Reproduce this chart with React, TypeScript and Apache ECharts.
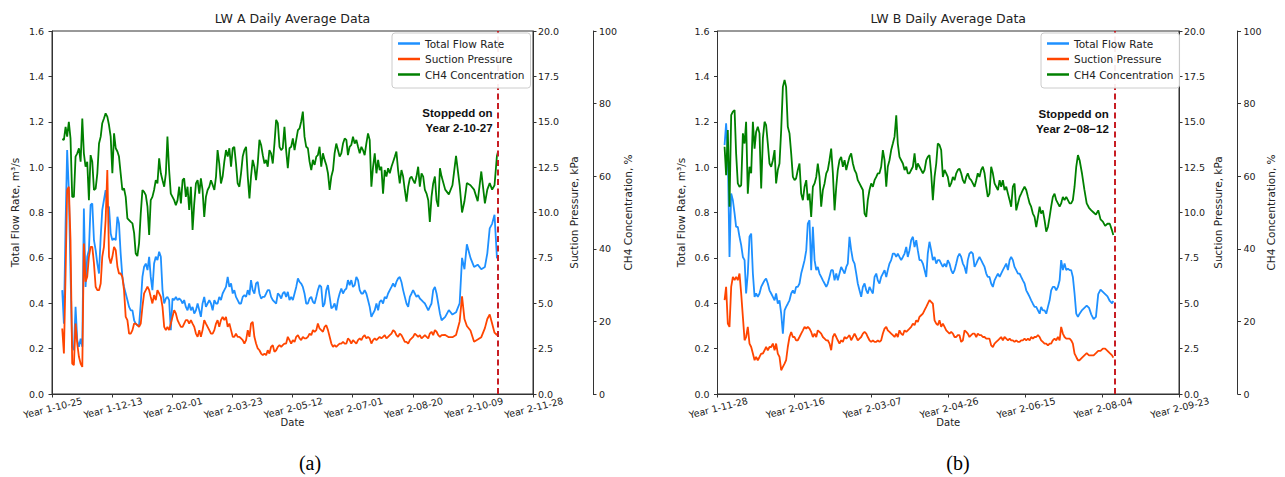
import { useEffect, useRef } from "react";
import * as echarts from "echarts";

// ---------------- Panel (a): LW A ----------------
const xTickLabelsA = ["Year 1-10-25", "Year 1-12-13", "Year 2-02-01", "Year 2-03-23", "Year 2-05-12", "Year 2-07-01", "Year 2-08-20", "Year 2-10-09", "Year 2-11-28"];

const daysA = [
  8.5, 9.9, 11.3, 12.6, 14.0, 15.4, 16.8, 18.2, 19.6, 21.0,
  22.4, 23.8, 25.2, 26.5, 27.9, 29.3, 30.7, 32.1, 33.5, 34.9,
  36.3, 37.7, 39.1, 40.5, 41.8, 43.2, 44.6, 46.0, 47.4, 48.8,
  50.2, 51.6, 53.0, 54.4, 55.7, 57.1, 58.5, 59.9, 61.3, 62.7,
  64.1, 65.5, 66.9, 68.3, 69.6, 71.0, 72.4, 73.8, 75.2, 76.6,
  78.0,
  79.4, 80.8, 82.1, 83.5, 84.9, 86.3, 87.7, 89.1, 90.5, 91.9,
  93.3, 94.7, 96.0, 97.4, 98.8, 100.2, 101.6, 103.0, 104.4, 105.8,
  107.2, 108.6, 109.9, 111.3, 112.7, 114.1, 115.5, 116.9, 118.3, 119.7,
  121.1, 122.5, 123.8, 125.2, 126.6, 128.0, 129.4, 130.8, 132.2, 133.6,
  135.0, 136.4, 137.7, 139.1, 140.5, 141.9, 143.3, 144.7, 146.1, 147.5,
  148.9, 150.3, 151.6, 153.0, 154.4, 155.8, 157.2, 158.6, 160.0, 161.4,
  162.8, 164.2, 165.5, 166.9, 168.3, 169.7, 171.1, 172.5, 173.9, 175.3,
  176.7, 178.1, 179.4, 180.8, 182.2, 183.6, 185.0, 186.4, 187.8, 189.2,
  190.6, 191.9, 193.3, 194.7, 196.1, 197.5, 198.9, 200.3, 201.7, 203.1,
  204.5, 205.9, 207.2, 208.6, 210.0, 211.4, 212.8, 214.2, 215.6, 217.0,
  218.4, 219.8, 221.1, 222.5, 223.9, 225.3, 226.7, 228.1, 229.5, 230.9,
  232.3, 233.7, 235.0, 236.4, 237.8, 239.2, 240.6, 242.0, 243.4, 244.8,
  246.1, 247.5, 248.9, 250.3, 251.7, 253.1, 254.5, 255.9, 257.3, 258.6,
  260.0, 261.4, 262.8, 264.2, 265.6, 267.0, 268.4, 269.8, 271.2, 272.5,
  273.9, 275.3, 276.7, 278.1, 279.5, 280.9, 282.3, 283.7, 285.1, 286.4,
  287.8, 289.2, 290.6, 292.0, 293.4, 294.8, 296.2, 297.6, 299.0, 300.3,
  301.7, 303.1, 304.5, 305.9, 307.3, 308.7, 310.1, 311.5, 312.9, 314.2,
  315.6, 317.0, 318.4, 319.8, 321.2, 322.6, 324.0,
  327, 330, 333, 336, 339, 341, 343, 345, 348, 351, 354, 357, 360, 362, 364, 366, 368, 370, 371,
];

// Total flow rate, m3/s
const flowA = [
  0.458, 0.31, 0.752, 1.075, 0.899, 0.531, 0.208, 0.193, 0.384, 0.237,
  0.208, 0.244, 0.208, 0.818, 0.472, 0.605, 0.634, 0.833, 0.84, 0.678,
  0.634, 0.575, 0.531, 0.693, 0.811, 0.855, 0.899, 0.825, 0.825, 0.708,
  0.678, 0.686, 0.678, 0.781, 0.752, 0.619, 0.516, 0.472, 0.443, 0.414,
  0.384, 0.369, 0.369, 0.325, 0.31, 0.303, 0.303, 0.399, 0.516, 0.561,
  0.575,
  0.546, 0.605, 0.516, 0.458, 0.575, 0.605, 0.59, 0.627, 0.605, 0.458,
  0.399, 0.421, 0.428, 0.414, 0.281, 0.421, 0.414, 0.428, 0.414, 0.421,
  0.414, 0.399, 0.414, 0.384, 0.369, 0.399, 0.369, 0.384, 0.355, 0.369,
  0.399, 0.369, 0.34, 0.399, 0.428, 0.384, 0.399, 0.414, 0.399, 0.369,
  0.414, 0.399, 0.399, 0.428, 0.414, 0.443, 0.458, 0.472, 0.516, 0.472,
  0.487, 0.443, 0.458, 0.428, 0.414, 0.399, 0.399, 0.428, 0.436, 0.428,
  0.458, 0.436, 0.502, 0.458, 0.443, 0.487, 0.494, 0.443, 0.421, 0.428,
  0.428, 0.443, 0.458, 0.458, 0.428, 0.414, 0.406, 0.399, 0.443, 0.436,
  0.421, 0.443, 0.45, 0.428, 0.45, 0.414, 0.428, 0.414, 0.443, 0.472,
  0.509, 0.494, 0.487, 0.472, 0.443, 0.399, 0.399, 0.421, 0.428, 0.406,
  0.399, 0.428, 0.458, 0.48, 0.472, 0.384, 0.399, 0.458, 0.48, 0.428,
  0.377, 0.384, 0.399, 0.369, 0.414, 0.443, 0.465, 0.443, 0.458, 0.465,
  0.502, 0.48, 0.502, 0.472, 0.48, 0.516, 0.502, 0.458, 0.443, 0.443,
  0.458, 0.443, 0.414, 0.384, 0.34, 0.355, 0.369, 0.399, 0.369, 0.406,
  0.414, 0.399, 0.428, 0.421, 0.443, 0.458, 0.472, 0.487, 0.472, 0.494,
  0.509, 0.516, 0.494, 0.458, 0.428, 0.399, 0.384, 0.428, 0.443, 0.458,
  0.443, 0.428, 0.436, 0.421, 0.414, 0.406, 0.399, 0.384, 0.369, 0.384,
  0.399, 0.458, 0.472, 0.443, 0.399, 0.355, 0.325,
  0.34, 0.37, 0.35, 0.36, 0.4, 0.6, 0.55, 0.66, 0.6, 0.56, 0.57, 0.55, 0.56, 0.62, 0.73, 0.75, 0.79, 0.6, 0.6,
];

// Suction pressure, kPa
const suctionA = [
  3.61, 2.23, 6.64, 11.24, 11.42, 8.48, 1.68, 1.59, 3.88, 2.78,
  2.05, 1.68, 1.49, 8.29, 6.18, 6.46, 7.56, 8.11, 8.11, 7.19,
  5.91, 5.72, 5.72, 6.09, 7.56, 8.11, 9.58, 12.34, 7.56, 7.19,
  7.56, 8.11, 7.93, 7.01, 6.64, 6.64, 6.46, 5.72, 4.25, 4.07,
  3.33, 3.33, 3.52, 3.88, 3.88, 3.79, 3.7, 3.88, 4.8, 5.54,
  5.72,
  5.91, 5.72, 5.35, 4.99, 5.45, 5.17, 5.72, 5.54, 5.35, 4.8,
  3.7, 3.52, 3.7, 3.52, 3.88, 4.25, 4.62, 4.44, 4.07, 3.88,
  3.7, 3.7, 3.88, 4.07, 4.07, 3.88, 4.07, 3.88, 3.7, 3.33,
  3.15, 3.52, 3.15, 3.52, 4.07, 3.88, 3.7, 3.52, 3.33, 3.33,
  3.52, 3.88, 4.07, 3.7, 4.07, 4.25, 4.07, 4.25, 3.7, 3.88,
  3.52, 3.15, 3.15, 3.33, 3.15, 3.15, 3.06, 2.97, 2.78, 2.97,
  3.52, 3.15, 3.88, 3.97, 3.15, 2.78, 2.51, 2.41, 2.23, 2.14,
  2.23, 2.14, 2.41, 2.23, 2.6, 2.69, 2.32, 2.41, 2.6, 2.69,
  2.6, 2.69, 2.78, 2.78, 3.15, 2.97, 2.78, 2.97, 2.87, 3.15,
  3.24, 3.06, 2.97, 3.15, 3.06, 3.06, 3.15, 3.33, 3.24, 3.52,
  3.43, 3.52, 3.88, 3.61, 3.52, 3.43, 3.7, 3.79, 3.52, 3.15,
  2.78, 2.6, 2.69, 2.6, 2.69, 2.78, 2.78, 2.87, 2.78, 2.78,
  3.06, 2.97, 2.78, 2.97, 2.87, 2.78, 2.97, 3.06, 2.97, 3.15,
  3.24, 3.06, 3.15, 3.06, 2.78, 2.97, 3.06, 2.97, 3.06, 3.15,
  3.06, 3.15, 3.24, 3.06, 3.15, 3.24, 3.33, 3.52, 3.43, 3.24,
  3.15, 3.33, 3.24, 3.06, 2.87, 2.87, 2.78, 2.97, 3.06, 3.15,
  3.33, 3.24, 3.15, 3.24, 3.06, 3.15, 3.24, 3.15, 3.06, 3.33,
  3.43, 3.24, 3.52, 3.43, 3.24, 3.15, 3.24,
  3.25, 3.13, 3.13, 3.25, 4.0, 5.38, 4.13, 3.75, 3.5, 2.88, 3.0, 3.13, 3.63, 4.13, 4.38, 3.88, 3.38, 3.25, 3.38,
];

// CH4 concentration, %
const ch4A = [
  70.2, 70.0, 73.6, 70.9, 75.0, 70.4, 54.3, 54.3, 65.4, 66.3,
  67.7, 64.0, 75.9, 66.3, 62.6, 64.0, 53.4, 65.8, 64.0, 56.2,
  56.6, 60.8, 69.0, 70.9, 74.6, 75.9, 77.3, 76.4, 74.1, 70.9,
  60.8, 71.8, 67.7, 66.8, 65.4, 60.8, 56.2, 56.6, 54.3, 48.4,
  47.9, 47.4, 47.0, 44.3, 38.7, 38.0, 41.5, 49.7, 56.2, 55.7,
  54.8,
  51.6, 43.8, 53.4, 54.3, 56.2, 58.9, 58.0, 64.9, 60.8, 58.9,
  57.1, 60.8, 70.9, 61.7, 55.2, 54.3, 53.4, 52.0, 53.4, 57.1,
  52.5, 58.9, 59.4, 54.3, 57.1, 50.7, 57.1, 45.2, 52.5, 58.0,
  58.9, 55.2, 59.4, 56.2, 48.8, 54.3, 56.2, 57.1, 58.9, 57.6,
  56.2, 59.9, 67.2, 63.5, 58.0, 59.9, 64.0, 67.2, 65.4, 67.7,
  62.6, 67.7, 68.1, 63.5, 58.0, 57.1, 60.8, 65.4, 67.2, 68.1,
  59.9, 53.9, 59.9, 64.5, 62.6, 58.9, 63.5, 70.0, 68.6, 65.8,
  63.5, 64.5, 62.6, 67.2, 66.3, 63.5, 69.0, 75.5, 74.6, 68.1,
  67.2, 67.7, 73.6, 67.2, 62.2, 67.7, 68.1, 70.4, 67.2, 70.0,
  72.7, 73.2, 75.0, 77.8, 70.9, 68.1, 67.7, 64.0, 61.7, 64.5,
  63.1, 65.4, 65.8, 68.1, 62.6, 66.3, 64.5, 63.1, 60.8, 56.2,
  59.9, 61.7, 66.3, 69.0, 67.2, 65.4, 66.3, 69.0, 70.4, 70.0,
  65.8, 68.1, 68.6, 70.9, 69.0, 70.0, 68.1, 66.3, 68.1, 67.2,
  65.8, 69.0, 71.8, 70.0, 57.1, 62.6, 66.3, 60.8, 64.5, 61.7,
  62.6, 55.2, 61.7, 59.9, 62.2, 60.8, 62.6, 64.0, 65.4, 66.8,
  61.7, 58.0, 61.7, 59.9, 56.2, 53.0, 57.1, 59.4, 59.9, 58.9,
  58.0, 59.9, 62.6, 57.1, 60.8, 59.9, 56.2, 55.2, 53.4, 47.4,
  54.3, 58.0, 59.9, 53.4, 51.6, 62.2, 59.9,
  56.3, 55.0, 57.5, 65.6, 57.5, 50.0, 53.1, 58.1, 57.5, 56.3, 53.1, 61.3, 52.5, 56.3, 58.1, 56.3, 57.5, 65.6, 66.9,
];

const stopDayA = 371;
const stopTextA = "Stoppedd on\nYear 2-10-27";

// ---------------- Panel (b): LW B ----------------
const xTickLabelsB = ["Year 1-11-28", "Year 2-01-16", "Year 2-03-07", "Year 2-04-26", "Year 2-06-15", "Year 2-08-04", "Year 2-09-23"];

const daysB = [
  4.6, 5.6, 6.7, 7.8, 8.9, 10.0, 11.1, 12.1, 13.2, 14.3,
  15.4, 16.5, 17.6, 18.6, 19.7, 20.8, 21.9, 23.0, 24.1, 25.1,
  26.2, 27.3, 28.4, 29.5, 30.6, 31.6, 32.7, 33.8, 34.9, 36.0,
  37.1, 38.1, 39.2, 40.3, 41.4, 42.5, 43.6, 44.6, 45.7, 46.8,
  47.9, 49.0, 50.1, 51.1, 52.2, 53.3,
  54.4, 55.5, 56.6, 57.7, 58.7, 59.8, 60.9, 62.0, 63.1, 64.2,
  65.2, 66.3, 67.4, 68.5, 69.6, 70.7, 71.7, 72.8, 73.9, 75.0,
  76.1, 77.2, 78.2, 79.3, 80.4, 81.5, 82.6, 83.7, 84.7, 85.8,
  86.9, 88.0, 89.1, 90.2, 91.2, 92.3, 93.4, 94.5, 95.6, 96.7,
  97.7, 98.8, 99.9, 101.0, 102.1, 103.2, 104.2, 105.3, 106.4, 107.5,
  108.6, 109.7, 110.7, 111.8, 112.9, 114.0, 115.1,
  116.2, 117.2, 118.3, 119.4, 120.5, 121.6, 122.7, 123.7, 124.8, 125.9,
  127.0, 128.1, 129.2, 130.2, 131.3, 132.4, 133.5, 134.6, 135.7, 136.7,
  137.8, 138.9, 140.0, 141.1, 142.2, 143.2, 144.3, 145.4, 146.5, 147.6,
  148.7, 149.7, 150.8, 151.9, 153.0, 154.1, 155.2, 156.2, 157.3, 158.4,
  159.5, 160.6, 161.7, 162.7, 163.8, 164.9, 166.0, 167.1, 168.2, 169.2,
  170.3, 171.4, 172.5, 173.6, 174.7, 175.7, 176.8,
  177.9, 179.0, 180.1, 181.2, 182.3, 183.4, 184.4, 185.5, 186.6, 187.7,
  188.8, 189.9, 190.9, 192.0, 193.1, 194.2, 195.3, 196.4, 197.4, 198.5,
  199.6, 200.7, 201.8, 202.9, 203.9, 205.0, 206.1, 207.2, 208.3, 209.4,
  210.4, 211.5, 212.6, 213.7, 214.8, 215.9, 216.9, 218.0, 219.1, 220.2,
  221.3, 222.4, 223.4, 224.5, 225.6, 226.7, 227.8, 228.9, 229.9, 231.0,
  232.1, 233.2, 234.3, 235.4,
  237, 238.5, 240, 241.5, 243, 244.5, 246, 247.5, 249, 250.5, 252, 253.5, 255, 256.5, 257.3,
];

const flowB = [
  1.097, 1.193, 1.06, 0.604, 0.884, 0.854, 0.796, 0.737, 0.737, 0.693,
  0.656, 0.604, 0.59, 0.443, 0.531, 0.693, 0.707, 0.531, 0.428, 0.443,
  0.428, 0.443, 0.472, 0.487, 0.501, 0.509, 0.487, 0.457, 0.443, 0.428,
  0.413, 0.443, 0.398, 0.413, 0.354, 0.266, 0.369, 0.384, 0.398, 0.413,
  0.443, 0.457, 0.443, 0.472, 0.472, 0.487,
  0.531, 0.56, 0.59, 0.634, 0.751, 0.766, 0.546, 0.737, 0.59, 0.546,
  0.56, 0.531, 0.516, 0.501, 0.487, 0.472, 0.487, 0.516, 0.546, 0.546,
  0.501, 0.531, 0.501, 0.531, 0.56, 0.546, 0.531, 0.56, 0.575, 0.693,
  0.634, 0.59, 0.575, 0.531, 0.487, 0.457, 0.428, 0.472, 0.487, 0.457,
  0.443, 0.472, 0.457, 0.443, 0.516, 0.531, 0.501, 0.487, 0.516, 0.531,
  0.546, 0.516, 0.546, 0.575, 0.59, 0.619, 0.619,
  0.604, 0.619, 0.604, 0.59, 0.604, 0.619, 0.648, 0.604, 0.634, 0.678,
  0.693, 0.648, 0.678, 0.634, 0.59, 0.59, 0.575, 0.546, 0.516, 0.619,
  0.671, 0.634, 0.59, 0.604, 0.575, 0.59, 0.59, 0.575, 0.56, 0.575,
  0.56, 0.59, 0.575, 0.546, 0.531, 0.546, 0.575, 0.604, 0.619, 0.604,
  0.575, 0.56, 0.531, 0.59, 0.619, 0.626, 0.619, 0.56, 0.575, 0.59,
  0.604, 0.59, 0.575, 0.56, 0.531, 0.516, 0.516,
  0.487, 0.472, 0.501, 0.516, 0.531, 0.516, 0.531, 0.546, 0.56, 0.575,
  0.546, 0.59, 0.604, 0.59, 0.56, 0.546, 0.531, 0.531, 0.516, 0.501,
  0.487, 0.457, 0.443, 0.428, 0.413, 0.398, 0.384, 0.384, 0.369, 0.354,
  0.384, 0.369, 0.369, 0.354, 0.384, 0.413, 0.457, 0.472, 0.472, 0.457,
  0.472, 0.501, 0.59, 0.546, 0.575, 0.546, 0.553, 0.546, 0.546, 0.516,
  0.443, 0.354, 0.34, 0.354,
  0.37, 0.38, 0.39, 0.38, 0.35, 0.33, 0.34, 0.44, 0.46, 0.45, 0.44, 0.43, 0.41, 0.4, 0.41,
];

const suctionB = [
  5.17, 5.9, 3.88, 3.7, 5.9, 6.45, 6.27, 6.45, 6.27, 6.64,
  5.53, 4.25, 2.96, 3.14, 3.7, 2.78, 2.59, 2.23, 1.86, 2.04,
  1.86, 2.04, 2.23, 2.23, 2.41, 2.59, 2.41, 2.59, 2.59, 2.78,
  2.41, 2.78, 2.23, 2.04, 1.31, 1.49, 1.67, 1.86, 2.59, 3.14,
  3.42, 3.14, 3.14, 2.96, 2.96, 3.14,
  3.33, 3.51, 3.7, 3.6, 3.7, 3.6, 3.42, 3.14, 3.33, 3.14,
  3.51, 3.42, 3.33, 3.14, 3.05, 2.96, 2.96, 2.78, 2.41, 3.14,
  3.33, 3.14, 2.96, 2.78, 2.96, 2.87, 3.14, 3.05, 3.14, 3.24,
  2.96, 3.14, 3.33, 3.14, 2.96, 3.05, 3.14, 3.33, 3.42, 3.33,
  3.14, 2.96, 2.87, 2.96, 2.87, 2.87, 2.96, 2.87, 2.96, 3.33,
  3.6, 3.7, 3.51, 3.42, 3.33, 3.24, 3.14,
  3.33, 3.14, 3.51, 3.33, 3.24, 3.51, 3.42, 3.51, 3.6, 3.7,
  3.88, 3.79, 4.06, 3.97, 4.25, 4.34, 4.43, 4.62, 4.8, 4.98,
  5.17, 5.07, 4.98, 4.06, 3.88, 3.79, 4.06, 3.7, 3.88, 3.7,
  3.51, 3.42, 3.33, 3.42, 3.33, 3.14, 3.14, 3.24, 3.24, 2.87,
  2.96, 3.51, 3.42, 3.33, 3.14, 3.24, 3.33, 3.33, 3.14, 3.33,
  3.24, 3.24, 3.14, 3.14, 3.05, 3.05, 3.05,
  2.68, 2.59, 2.78, 2.87, 2.96, 3.05, 3.14, 2.96, 3.14, 3.05,
  2.96, 3.05, 2.96, 2.96, 2.87, 2.96, 2.87, 2.87, 2.96, 2.96,
  3.05, 2.96, 3.05, 2.96, 3.14, 3.05, 3.14, 3.14, 3.24, 3.14,
  2.96, 2.87, 2.78, 2.78, 2.68, 2.78, 2.78, 2.96, 3.05, 2.96,
  3.14, 2.96, 3.7, 3.33, 3.14, 3.05, 3.05, 3.05, 2.96, 2.78,
  2.23, 2.04, 1.86, 1.86,
  2.0, 2.13, 2.25, 2.13, 2.13, 2.13, 2.25, 2.38, 2.38, 2.5, 2.5, 2.38, 2.25, 2.13, 2.0,
];

const ch4B = [
  68.1, 60.3, 72.7, 51.6, 76.8, 77.8, 78.2, 66.3, 58.0, 57.1,
  57.5, 71.8, 69.0, 75.0, 55.2, 62.6, 60.8, 75.0, 67.6, 72.2,
  73.6, 71.8, 56.6, 70.4, 75.0, 74.1, 69.0, 63.5, 62.6, 64.4,
  67.2, 58.0, 61.7, 63.5, 72.7, 84.6, 86.5, 84.6, 73.6, 71.8,
  66.3, 59.8, 58.9, 59.4, 61.7, 63.5,
  55.2, 53.4, 57.1, 58.9, 53.4, 55.2, 48.8, 57.1, 58.0, 59.8,
  63.5, 59.8, 51.6, 56.2, 58.0, 60.8, 61.7, 64.4, 67.6, 60.8,
  50.6, 57.1, 61.7, 64.4, 65.3, 62.6, 64.4, 61.7, 63.5, 65.3,
  66.3, 63.5, 61.7, 60.8, 58.9, 58.0, 57.1, 56.2, 49.7, 48.8,
  53.4, 56.2, 58.0, 57.1, 58.9, 59.8, 60.8, 60.8, 62.6, 67.2,
  64.4, 57.1, 62.6, 64.4, 67.2, 69.0, 70.9,
  76.8, 69.0, 65.3, 64.4, 63.5, 61.7, 62.6, 60.8, 60.8, 61.7,
  62.6, 66.3, 61.7, 63.5, 62.6, 61.7, 60.8, 61.7, 64.4, 65.3,
  65.8, 60.8, 53.4, 59.8, 63.5, 69.0, 68.6, 67.2, 59.8, 61.7,
  60.8, 59.8, 57.1, 58.0, 59.8, 58.9, 60.8, 61.7, 62.1, 60.8,
  58.9, 58.0, 59.8, 60.8, 59.4, 58.9, 58.0, 57.1, 58.9, 60.8,
  59.8, 61.7, 62.6, 60.8, 57.1, 54.3, 55.2,
  62.6, 60.8, 58.0, 57.1, 56.2, 58.9, 57.1, 58.9, 56.2, 57.1,
  55.2, 53.4, 51.6, 57.1, 58.0, 50.6, 52.5, 54.3, 55.2, 56.2,
  57.1, 56.2, 54.3, 52.5, 51.6, 49.7, 48.8, 46.0, 48.8, 51.6,
  49.7, 50.6, 47.9, 44.7, 46.0, 48.8, 51.6, 54.3, 55.2, 53.4,
  52.5, 51.6, 52.5, 54.3, 53.4, 54.3, 53.4, 52.5, 52.5, 53.4,
  57.1, 62.6, 65.8, 64.4,
  60.6, 56.3, 52.5, 51.3, 50.6, 50.0, 49.4, 50.6, 48.1, 47.5, 46.3, 46.9, 46.9, 45.0, 43.8,
];

const stopDayB = 258;
const stopTextB = "Stoppedd on\nYear 2\u221208\u221212";

const seriesNames = ["Total Flow Rate", "Suction Pressure", "CH4 Concentration"];
const seriesColors = ["#1e90ff", "#ff4500", "#008000"];

const FONT = "DejaVu Sans";
const AX = "#333333";
const TXT = "#222222";

function zip(d: number[], v: number[]) {
  const n = Math.min(d.length, v.length);
  const out: number[][] = [];
  for (let i = 0; i < n; i++) out.push([d[i], v[i]]);
  return out;
}

function buildOption() {
  const panels = [
    { left: 52, width: 481, xMax: 400, ticks: xTickLabelsA, days: daysA, flow: flowA, suction: suctionA, ch4: ch4A,
      stop: stopDayA, stopText: stopTextA, stopY: 1.207, title: "LW A Daily Average Data", caption: "(a)", captionX: 310,
      legendLeft: 392, gaps: [32, 35, 29], ch4Offset: 60 },
    { left: 717.5, width: 461.5, xMax: 300, ticks: xTickLabelsB, days: daysB, flow: flowB, suction: suctionB, ch4: ch4B,
      stop: stopDayB, stopText: stopTextB, stopY: 1.2, title: "LW B Daily Average Data", caption: "(b)", captionX: 958,
      legendLeft: 1041, gaps: [31, 33, 28], ch4Offset: 58.5 },
  ];
  const grid: any[] = [];
  const xAxis: any[] = [];
  const yAxis: any[] = [];
  const series: any[] = [];
  const legend: any[] = [];
  const graphic: any[] = [];

  const axisLine = { show: true, lineStyle: { color: AX, width: 1 } };
  const axisTick = { show: true, inside: false, length: 3.5, lineStyle: { color: AX, width: 1 } };
  const label = { color: TXT, fontSize: 9.5, fontFamily: FONT };
  const nameStyle = { color: TXT, fontSize: 10.5, fontFamily: FONT };

  panels.forEach((p, i) => {
    grid.push({ left: p.left, top: 31, width: p.width, height: 363, show: true, borderColor: AX, borderWidth: 1,
      backgroundColor: "transparent", containLabel: false, outerBoundsMode: "none" });
    xAxis.push({
      gridIndex: i, type: "value", min: 0, max: p.xMax, interval: 50,
      axisLine, axisTick, splitLine: { show: false },
      axisLabel: { ...label, rotate: 14, margin: 14, padding: [0, -31, 0, 0], showMinLabel: true, showMaxLabel: true,
        hideOverlap: false, formatter: (v: number) => p.ticks[Math.round(v / 50)] ?? "" },
      name: "Date", nameLocation: "middle", nameGap: 23, nameTextStyle: { ...nameStyle, fontSize: 10 }, nameMoveOverlap: false,
    });
    const yBase = { gridIndex: i, type: "value", axisLine, axisTick, splitLine: { show: false }, nameLocation: "middle",
      nameRotate: 90, nameTextStyle: nameStyle, nameMoveOverlap: false };
    yAxis.push({ ...yBase, position: "left", min: 0, max: 1.6, interval: 0.2,
      axisLabel: { ...label, margin: 8, showMaxLabel: true, formatter: (v: number) => v.toFixed(1) },
      name: "Total Flow Rate, m\u00b3/s", nameGap: p.gaps[0] });
    yAxis.push({ ...yBase, position: "right", min: 0, max: 20, interval: 2.5,
      axisLabel: { ...label, margin: 5, showMaxLabel: true, formatter: (v: number) => v.toFixed(1) },
      name: "Suction Pressure, kPa", nameGap: p.gaps[1] });
    yAxis.push({ ...yBase, position: "right", offset: p.ch4Offset, min: 0, max: 100, interval: 20,
      axisLabel: { ...label, margin: 6, showMaxLabel: true, formatter: (v: number) => String(Math.round(v)) },
      name: "CH4 Concentration, %", nameGap: p.gaps[2] });

    const vals = [p.flow, p.suction, p.ch4];
    vals.forEach((v, k) => {
      const s: any = {
        type: "line", name: seriesNames[k], xAxisIndex: i, yAxisIndex: i * 3 + k,
        data: zip(p.days, v), showSymbol: false, symbol: "none", smooth: false,
        lineStyle: { color: seriesColors[k], width: 1.8 }, itemStyle: { color: seriesColors[k] },
        emphasis: { disabled: true }, z: 2 + k,
      };
      if (k === 0) {
        s.markLine = {
          silent: true, symbol: ["none", "none"], label: { show: false },
          lineStyle: { color: "#c81e24", type: [6, 3.5], width: 2 },
          data: [{ xAxis: p.stop }],
        };
        s.markPoint = {
          silent: true, symbol: "circle", symbolSize: 1, itemStyle: { color: "rgba(0,0,0,0)" },
          label: { show: true, position: "left", distance: 5, formatter: p.stopText, color: "#111",
            fontWeight: "bold", fontSize: 11.5, lineHeight: 15, fontFamily: "Liberation Sans", align: "right" },
          data: [{ coord: [p.stop, p.stopY] }],
        };
      }
      series.push(s);
    });

    legend.push({
      left: p.legendLeft, top: 33, orient: "vertical", data: seriesNames, icon: "rect",
      itemWidth: 22, itemHeight: 2.5, itemGap: 4.5, padding: [5, 6, 8, 6],
      borderColor: "#cccccc", borderWidth: 1, borderRadius: 3, backgroundColor: "rgba(255,255,255,0.92)",
      textStyle: { color: TXT, fontSize: 10.5, fontFamily: FONT }, selectedMode: false, z: 10,
    });

    graphic.push({ type: "text", z: 20, style: { text: p.title, x: p.left + p.width / 2, y: 18, align: "center",
      verticalAlign: "middle", fill: TXT, fontSize: 12.5, fontFamily: FONT } });
    graphic.push({ type: "text", z: 20, style: { text: p.caption, x: p.captionX, y: 463, align: "center",
      verticalAlign: "middle", fill: "#000", fontSize: 20, fontFamily: "Liberation Serif" } });
  });

  return { animation: false, backgroundColor: "#ffffff", grid, xAxis, yAxis, series, legend, graphic };
}

export default function App() {
  const ref = useRef<HTMLDivElement>(null);
  useEffect(() => {
    if (!ref.current) return;
    const chart = echarts.init(ref.current, null, { renderer: "svg" });
    chart.setOption(buildOption() as any);
    return () => chart.dispose();
  }, []);
  return (
    <div
      ref={ref}
      style={{ position: "fixed", left: 0, top: 0, width: 1285, height: 477, background: "#ffffff" }}
    />
  );
}
